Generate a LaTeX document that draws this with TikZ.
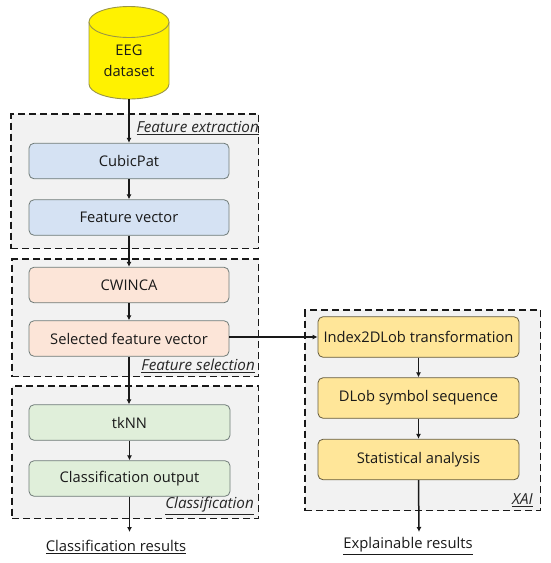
\documentclass[tikz,border=0pt]{standalone}
\usepackage{fontspec}
\setmainfont{Open Sans}
\usetikzlibrary{arrows.meta}
\definecolor{panelc}{HTML}{F2F2F2}
\definecolor{bluec}{HTML}{D5E2F3}
\definecolor{orangec}{HTML}{FCE5D8}
\definecolor{greenc}{HTML}{E0EFDA}
\definecolor{goldc}{HTML}{FFE699}
\definecolor{edgec}{HTML}{6F7B78}
\tikzset{
 panel/.style={draw=black!90,fill=panelc,line width=1.8pt,dash pattern=on 7pt off 4pt,inner sep=0pt,outer sep=0pt,anchor=north west},
 stage/.style={draw=edgec,line width=0.8pt,rounded corners=5pt,inner sep=0pt,text=black!90,font=\fontsize{14.7pt}{18pt}\selectfont},
 bluebox/.style={stage,fill=bluec,minimum width=200pt,minimum height=35.5pt},
 orangebox/.style={stage,fill=orangec,minimum width=200pt,minimum height=35.5pt},
 greenbox/.style={stage,fill=greenc,minimum width=201pt,minimum height=35.5pt},
 goldbox/.style={stage,fill=goldc,draw=black!60!goldc,minimum width=201pt,minimum height=40.5pt},
 flow/.style={draw=black!90,line width=1.5pt,-{Latex[length=5pt,width=5pt]}},
 tag/.style={inner sep=0pt,text=black!85,font=\fontsize{15.2pt}{18pt}\selectfont\itshape},
 result/.style={inner sep=0pt,text=black!90,font=\fontsize{14.8pt}{18pt}\selectfont},
}
\begin{document}
\begin{tikzpicture}[x=1pt,y=-1pt]
\useasboundingbox (0,0) rectangle (550,563);
% panels
\node[panel,minimum width=247.5pt,minimum height=134.5pt] (pext) at (11,114) {};
\node[panel,minimum width=246.5pt,minimum height=117.5pt] (psel) at (12,259) {};
\node[panel,minimum width=246.5pt,minimum height=132.5pt] (pcls) at (12,386) {};
\node[panel,minimum width=235.5pt,minimum height=200.5pt] (pxai) at (305,310) {};
% database
\draw[draw=black!45!yellow,line width=0.9pt,fill=yellow] (89,22) -- (89,84)
  arc[start angle=180,end angle=360,x radius=40pt,y radius=15pt] -- (169,22);
\draw[draw=black!45!yellow,line width=0.9pt,fill=yellow] (129,22) ellipse[x radius=40pt,y radius=15.5pt];
\coordinate (dbout) at (129,99);
\node[inner sep=0pt,align=center,font=\fontsize{14.7pt}{20.5pt}\selectfont,text=black!90] (db) at (129,60.5) {EEG\\dataset};
% stages
\node[bluebox] (cubic) at (129,161) {CubicPat};
\node[bluebox] (fvec) at (129,217.5) {Feature vector};
\node[orangebox] (cwin) at (129,285) {CWINCA};
\node[orangebox] (sel) at (129,338.5) {Selected feature vector};
\node[greenbox] (tknn) at (129.5,422.5) {tkNN};
\node[greenbox] (cout) at (129.5,478.5) {Classification output};
\node[goldbox] (idx) at (418.5,337) {Index2DLob transformation};
\node[goldbox] (dlob) at (418.5,398) {DLob symbol sequence};
\node[goldbox] (stat) at (418.5,459.5) {Statistical analysis};
% tags
\node[tag,anchor=east] (text) at (259,128) {\underline{Feature extraction}};
\node[tag,anchor=east] (tsel) at (255,366) {\underline{Feature selection}};
\node[tag,anchor=east] (tcls) at (254,506) {\underline{Classification}};
\node[tag,anchor=east] (txai) at (533,500) {\underline{XAI}};
% results
\coordinate (cend) at (129.5,532);
\coordinate (xend) at (419,532);
\node[result] (rcls) at (116,547) {\underline{Classification results}};
\node[result] (rxai) at (408,546) {\underline{Explainable results}};
% connectors
\draw[flow] (dbout) -- (cubic.north);
\draw[flow] (cubic) -- (fvec);
\draw[flow] (fvec.south) -- (cwin.north);
\draw[flow] (cwin) -- (sel);
\draw[flow] (sel.south) -- (tknn.north -| sel.south);
\draw[flow] (tknn) -- (cout);
\draw[flow] (cout.south) -- (cend);
\draw[flow] (sel.east |- idx.west) -- (idx.west);
\draw[flow] (idx) -- (dlob);
\draw[flow] (dlob) -- (stat);
\draw[flow] (stat.south) -- (xend);
\end{tikzpicture}
\end{document}
